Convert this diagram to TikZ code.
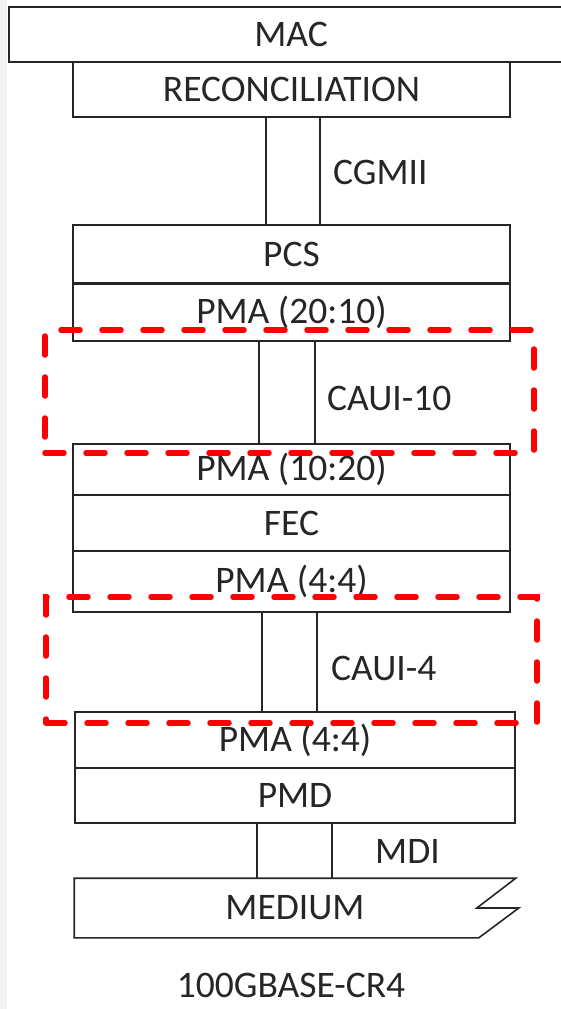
\documentclass[tikz,border=0pt]{standalone}
\usepackage{fontspec}
\setmainfont{Carlito}
\usetikzlibrary{positioning}
\definecolor{inkgray}{HTML}{262626}
\definecolor{zonered}{HTML}{FF0000}
\definecolor{edgegray}{HTML}{F2F2F2}

\begin{document}
\begin{tikzpicture}[x=1pt, y=-1pt,
    layer/.style={draw=inkgray, line width=1.6pt, fill=white, minimum width=437pt,
                  inner sep=0pt, text=inkgray, font=\fontsize{37.5}{42}\selectfont},
    wire/.style={draw=inkgray, line width=1.6pt},
    tag/.style={anchor=west, inner sep=0pt, text=inkgray, font=\fontsize{37.5}{42}\selectfont},
    zone/.style={draw=zonered, line width=5.5pt, dash pattern=on 19pt off 22pt,
                 line cap=round, minimum width=489pt, minimum height=123pt, inner sep=0pt}]
  \clip (0,0) rectangle (561,1009);
  \fill[edgegray] (0,0) rectangle (7,1009);

  % layer stack
  \node[layer, minimum width=564pt, minimum height=55pt] (mac) at (291,34.5) {MAC};
  \node[layer, minimum height=55pt] (recon) at (291.5,89.5) {RECONCILIATION};
  \node[layer, minimum height=58pt] (pcs) at (291.5,254) {PCS};
  \node[layer, minimum height=58pt] (pmaup) at (291.5,312) {PMA (20:10)};
  \draw[line width=3pt, inkgray] (pcs.south west) -- (pcs.south east);
  \node[layer, minimum height=51pt] (pmadown) at (291.5,469.5) {PMA (10:20)};
  \node[layer, minimum height=56pt] (fec) at (291.5,523.5) {FEC};
  \node[layer, minimum height=61pt] (pmafec) at (291.5,581.5) {PMA (4:4)};
  \node[layer, minimum width=440pt, minimum height=56pt] (pmapmd) at (295,740) {PMA (4:4)};
  \node[layer, minimum width=440pt, minimum height=55pt] (pmd) at (295,795.5) {PMD};
  \node[layer, draw=none, fill=none, minimum width=440pt, minimum height=58pt] (medium) at (295,908) {MEDIUM};
  \draw[wire] (medium.north west) -- (medium.north east) -- ([xshift=-39pt]medium.east)
    -- ([xshift=3pt]medium.east) -- ([xshift=-37pt]medium.south east)
    -- (medium.south west) -- cycle;

  % interfaces
  \draw[wire] ([xshift=-25.5pt]recon.south) -- ([xshift=-25.5pt]pcs.north);
  \draw[wire] ([xshift=28.5pt]recon.south) -- ([xshift=28.5pt]pcs.north);
  \node[tag] (cgmii) at (333,172) {CGMII};

  \draw[wire] ([xshift=-32.5pt]pmaup.south) -- ([xshift=-32.5pt]pmadown.north);
  \draw[wire] ([xshift=23.5pt]pmaup.south) -- ([xshift=23.5pt]pmadown.north);
  \node[tag] (caui10) at (327,398) {CAUI-10};

  \draw[wire] ([xshift=-29.5pt]pmafec.south) -- ([xshift=-29.5pt]pmafec.south |- pmapmd.north);
  \draw[wire] ([xshift=25.5pt]pmafec.south) -- ([xshift=25.5pt]pmafec.south |- pmapmd.north);
  \node[tag] (caui4) at (331,668) {CAUI-4};

  \draw[wire] ([xshift=-38pt]pmd.south) -- ([xshift=-38pt]medium.north);
  \draw[wire] ([xshift=37pt]pmd.south) -- ([xshift=37pt]medium.north);
  \node[tag] (mdi) at (375,851) {MDI};

  % dashed zones
  \node[zone] (zoneten) at (289.5,391.5) {};
  \node[zone, minimum width=491pt, minimum height=126pt] (zonefour) at (291.5,660) {};

  \node[tag, anchor=center] (title) at (291,985) {100GBASE-CR4};
\end{tikzpicture}
\end{document}
